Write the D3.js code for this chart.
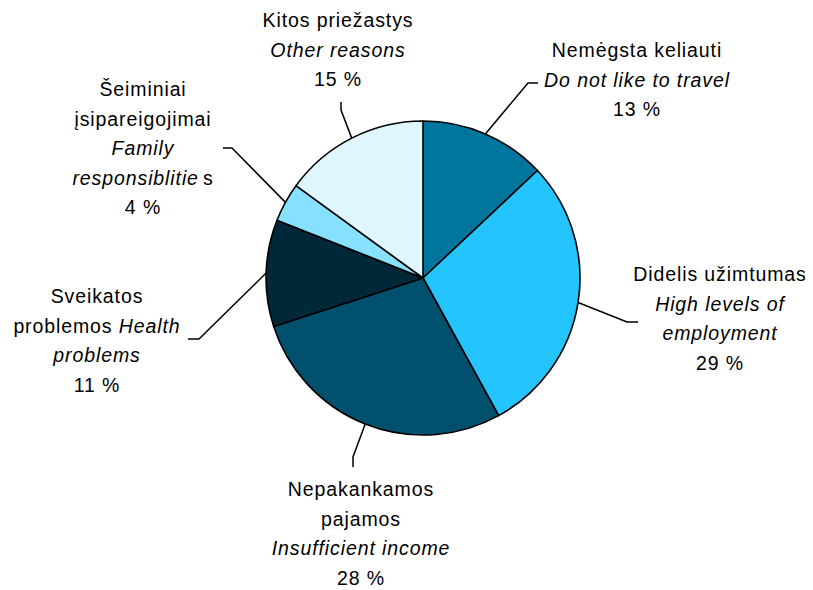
<!DOCTYPE html>
<html>
<head>
<meta charset="utf-8">
<script src="https://cdn.jsdelivr.net/npm/d3@7"></script>
<style>
  body { margin: 0; background: #fff; }
  text { font-family: "Liberation Sans", Arial, sans-serif; font-size: 19.5px; letter-spacing: 0.9px; fill: #000; }
</style>
</head>
<body>
<div id="chart"></div>
<script>
// slices, clockwise from 12 o'clock
const categories = ["Nemėgsta keliauti", "Didelis užimtumas", "Nepakankamos pajamos",
                    "Sveikatos problemos", "Šeiminiai įsipareigojimai", "Kitos priežastys"];
const values = [13, 29, 28, 11, 4, 15];
const colors = ["#00769E", "#24C4FF", "#00506E", "#002838", "#88E0FF", "#E0F6FF"];

// label lines: [text, italic, dx]
const labelLines = [
    [[["Nemėgsta keliauti", false]], [["Do not like to travel", true]], [["13 %", false]]],
    [[["Didelis užimtumas", false]], [["High levels of", true]], [["employment", true]], [["29 %", false]]],
    [[["Nepakankamos", false]], [["pajamos", false]], [["Insufficient income", true]], [["28 %", false]]],
    [[["Sveikatos", false]], [["problemos ", false], ["Health", true]], [["problems", true]], [["11 %", false]]],
    [[["Šeiminiai", false]], [["įsipareigojimai", false]], [["Family", true]],
     [["responsiblitie", true], ["s", false, 4]], [["4 %", false]]],
    [[["Kitos priežastys", false]], [["Other reasons", true]], [["15 %", false]]]
];

const width = 813, height = 590;
const cx = 423, cy = 278, radius = 157;
const lineH = 29.6;

// label block: center x, first baseline y; leader elbow and end
const labelPos = [
    {x: 637, y: 57,  elbow: [528, 83],  end: [538, 83]},
    {x: 720, y: 281, elbow: [627, 322], end: [638, 322]},
    {x: 361, y: 496, elbow: [353, 457], end: [353, 467]},
    {x: 97,  y: 303, elbow: [199, 339], end: [188, 339]},
    {x: 143, y: 96,  elbow: [232, 148], end: [223, 148]},
    {x: 338, y: 27,  elbow: [341, 110], end: [341, 102]}
];

const data = categories.map((c, i) => ({name: c, value: values[i]}));

const svg = d3.select('#chart').append('svg')
    .attr('width', width)
    .attr('height', height);

const pie = d3.pie().sort(null).value(d => d.value);
const arcs = pie(data);
const arc = d3.arc().innerRadius(0).outerRadius(radius);

const g = svg.append('g').attr('transform', `translate(${cx},${cy})`);

g.selectAll('path')
    .data(arcs)
    .join('path')
    .attr('d', arc)
    .attr('fill', (d, i) => colors[i])
    .attr('stroke', '#000')
    .attr('stroke-width', 1.6)
    .attr('stroke-linejoin', 'round');

// leader lines start on the rim at each slice's mid angle
svg.selectAll('polyline.leader')
    .data(arcs)
    .join('polyline')
    .classed('leader', true)
    .attr('points', (d, i) => {
        const a = (d.startAngle + d.endAngle) / 2;
        const p = [cx + radius * Math.sin(a), cy - radius * Math.cos(a)];
        return [p, labelPos[i].elbow, labelPos[i].end].map(q => q.join(',')).join(' ');
    })
    .attr('fill', 'none')
    .attr('stroke', '#000')
    .attr('stroke-width', 1.5);

// labels
labelLines.forEach((lines, i) => {
    const t = svg.append('text')
        .attr('text-anchor', 'middle');
    lines.forEach((parts, j) => {
        const line = t.append('tspan')
            .attr('x', labelPos[i].x)
            .attr('y', labelPos[i].y + j * lineH);
        parts.forEach(([s, it, dx]) => {
            line.append('tspan')
                .attr('font-style', it ? 'italic' : 'normal')
                .attr('dx', dx || null)
                .text(s);
        });
    });
});
</script>
</body>
</html>
